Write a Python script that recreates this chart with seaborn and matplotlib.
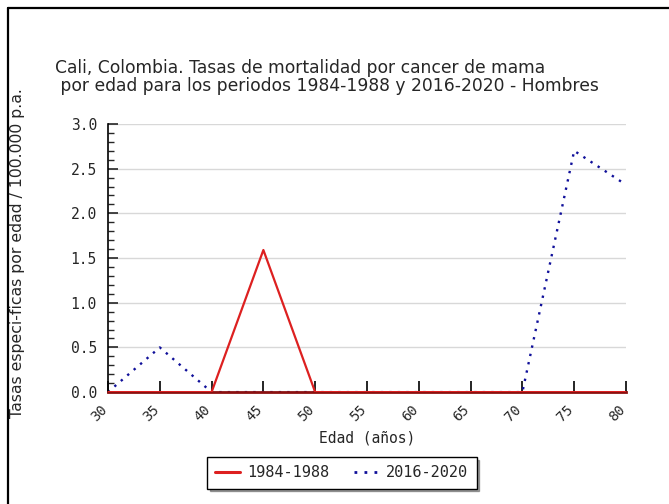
import numpy as np
import pandas as pd
import matplotlib
matplotlib.use('Agg')
import matplotlib.pyplot as plt
import matplotlib.transforms as mtransforms
import seaborn as sns
from matplotlib.lines import Line2D
from matplotlib.ticker import MultipleLocator

# data
edades = [30, 35, 40, 45, 50, 55, 60, 65, 70, 75, 80]
tasas_1984_1988 = [0, 0, 0, 1.59, 0, 0, 0, 0, 0, 0, 0]
tasas_2016_2020 = [0, 0.5, 0, 0, 0, 0, 0, 0, 0, 2.7, 2.32]
periodos = ['1984-1988', '2016-2020']

df = pd.DataFrame({
    'edad': edades * 2,
    'tasa': tasas_1984_1988 + tasas_2016_2020,
    'periodo': [periodos[0]] * len(edades) + [periodos[1]] * len(edades),
})

sns.set_style('white')
plt.rcParams['font.family'] = ['DejaVu Sans']

fig = plt.figure(figsize=(6.69, 5.04), dpi=100)
ax = fig.add_axes([0.1614, 0.222, 0.7743, 0.532])

dots = (0, (1, 2.6))
palette = {periodos[0]: '#dd2020', periodos[1]: '#10109a'}
sns.lineplot(data=df, x='edad', y='tasa', hue='periodo', palette=palette,
             ax=ax, legend=False, linewidth=1.6)
ax.lines[1].set_linestyle(dots)
ax.lines[1].set_linewidth(1.7)
ax.lines[0].set_zorder(3)

ax.set_xlim(30, 80)
ax.set_ylim(0, 3.0)
ax.set_xticks(edades)
ax.set_xticklabels([])
# rotated age labels, set a bit left of each tick like the original
shift = mtransforms.ScaledTranslation(-8 / 100, -10 / 100, fig.dpi_scale_trans)
for e in edades:
    ax.text(e, 0, str(e), transform=ax.get_xaxis_transform() + shift,
            rotation=45, ha='right', va='top', rotation_mode='anchor',
            family='DejaVu Sans Mono', fontsize=10)
ax.yaxis.set_major_locator(MultipleLocator(0.5))
ax.yaxis.set_minor_locator(MultipleLocator(0.1))
ax.set_yticklabels([f'{v:.1f}' for v in ax.get_yticks()],
                   family='DejaVu Sans Mono', fontsize=10.5)
ax.tick_params(axis='x', bottom=True, direction='in', length=8, width=1.2, pad=6,
               colors='black')
ax.tick_params(axis='y', which='major', left=True, direction='in', length=7,
               width=1.2, pad=8)
ax.tick_params(axis='y', which='minor', left=True, direction='in', length=4, width=1)
ax.grid(axis='y', color='#d8d8d8', linewidth=1)
for s in ['top', 'right']:
    ax.spines[s].set_visible(False)
ax.spines['left'].set_color('black')
ax.spines['bottom'].set_color('#8b1010')
ax.spines['bottom'].set_linewidth(2)
ax.spines['left'].set_linewidth(1.2)

ax.set_xlabel('Edad (años)', family='DejaVu Sans Mono', fontsize=10.5)
ax.xaxis.set_label_coords(0.5, -0.145)
ax.set_ylabel('Tasas especi-ficas por edad / 100.000 p.a.', fontsize=11.3)
ax.yaxis.set_label_coords(-0.16, 0.52)

fig.text(0.082, 0.866, 'Cali, Colombia. Tasas de mortalidad por cancer de mama',
         fontsize=12.3, va='center', ha='left')
fig.text(0.082, 0.829, ' por edad para los periodos 1984-1988 y 2016-2020 - Hombres',
         fontsize=12.3, va='center', ha='left')

# frame lines on top and left of the image
fig.add_artist(Line2D([0.0127, 1.0], [0.985, 0.985], transform=fig.transFigure,
                      color='black', linewidth=1.6))
fig.add_artist(Line2D([0.0127, 0.0127], [0.0, 0.985], transform=fig.transFigure,
                      color='black', linewidth=1.6))

handles = [Line2D([], [], color=palette[periodos[0]], linewidth=2.2),
           Line2D([], [], color=palette[periodos[1]], linewidth=2,
                  linestyle=dots)]
leg = fig.legend(handles, periodos, loc='center', bbox_to_anchor=(0.511, 0.062),
                 ncol=2, frameon=True, fancybox=False, shadow=True,
                 prop={'family': 'DejaVu Sans Mono', 'size': 11},
                 handlelength=1.6, columnspacing=1.6, borderpad=0.55,
                 handletextpad=0.5)
leg.get_frame().set_edgecolor('black')
leg.get_frame().set_linewidth(1)

fig.savefig('out.png', dpi=100)
